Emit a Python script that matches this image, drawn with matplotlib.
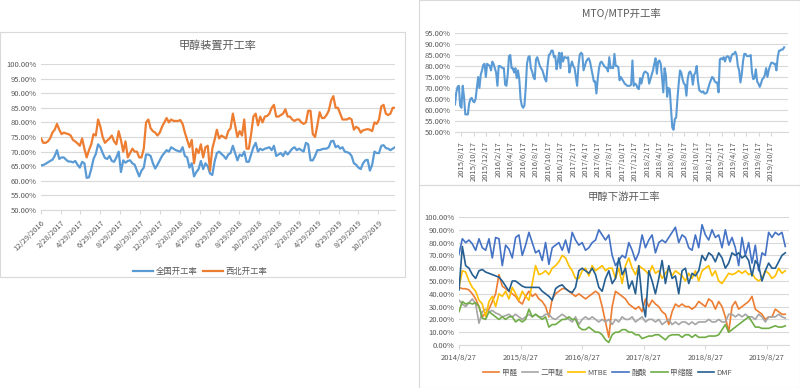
import matplotlib
matplotlib.use("Agg")
import matplotlib.pyplot as plt
from matplotlib.patches import Rectangle
import pandas as pd

plt.rcParams['font.family'] = ['Noto Sans CJK SC', 'DejaVu Sans']

GRAY_TXT = '#595959'
GRID = '#D9D9D9'

# ---- 甲醇装置开工率 (weekly from 2016-12-29)
plant_start = '2016-12-29'
national = [65.3, 65.4, 65.8, 66.3, 66.8, 67.2, 68.5, 70.5, 67.5, 68, 68, 67.2, 66.6, 66.6, 66.3, 66.8,
            65.5, 64.5, 66.5, 66, 61, 61.2, 64, 67.5, 69.2, 72.5, 71.5, 69.5, 67.8, 67.5, 68.5, 66.8,
            66.5, 68, 70, 63, 67, 66.2, 66.8, 67, 66, 65.5, 63.5, 61.5, 63.5, 64.5, 69, 69,
            68.5, 66, 64.2, 65.5, 67, 68.5, 69.5, 70.5, 70, 71.5, 71, 70.5, 70.2, 70, 71.5, 68.5,
            68, 64.5, 66, 61.5, 63, 64, 66.8, 64, 66, 65, 62.5, 62, 66.5, 69.5, 70, 69.2,
            68.5, 67.5, 69, 69.5, 72, 69.5, 67, 69, 68.5, 70, 66.5, 66.5, 69, 71.5, 73, 70,
            71, 70.5, 71, 71.2, 71.5, 70.5, 72, 68.5, 69, 69.5, 68.5, 70, 69, 70, 71, 71.5,
            70.5, 71, 70.5, 70, 73, 72.5, 67, 67, 68.5, 70.5, 70.5, 70.8, 71, 71, 71.5, 73.5,
            73.7, 71.5, 72, 71, 71.5, 70, 69.8, 69.5, 68.5, 66, 65.5, 64.5, 64, 66, 67, 67.2,
            63.5, 65.5, 70, 69.5, 69.5, 72, 72.2, 71.2, 71, 70.5, 71, 71.5]
northwest = [74.5, 73, 73, 73.5, 74.5, 76.5, 77.5, 79.5, 77.5, 76, 76.5, 76.2, 76, 75.5, 74, 73.5,
             72.8, 72, 74.5, 71, 68, 70.5, 72.5, 76, 75.5, 81, 78.5, 75, 73, 73.8, 74.5, 75.5,
             73.5, 72.5, 77, 74, 70, 73.5, 68, 69.5, 71, 70, 70, 68, 68, 71, 80, 81,
             78, 77, 76.5, 75.5, 76.5, 78.5, 80, 81.5, 80, 81, 80.5, 80.5, 80.5, 80.8, 79.5, 76.5,
             74, 71.5, 74, 66, 71, 69.5, 72.5, 68, 71.5, 72, 63.5, 71, 74, 77.5, 74.5, 75.5,
             75, 74.5, 77, 78, 83, 79, 75, 77, 75.5, 81, 71, 71, 76, 82, 83, 79,
             82, 80, 82, 82.2, 83, 85, 86, 82, 82, 82.5, 83, 84.5, 82, 82, 81, 80.5,
             81, 81, 80, 79.5, 80, 84, 84, 76, 75, 79, 83.5, 81.5, 81.5, 82.5, 84, 87.5,
             89, 85, 85, 83, 81, 81, 81, 81.5, 81, 77.5, 78.5, 78, 76.5, 77.3, 77.5, 77.7,
             77.5, 77, 80, 79.5, 81, 85.5, 86, 83, 82.5, 83, 85, 85]
plant_ticks = ['12/29/2016', '2/28/2017', '4/29/2017', '6/29/2017', '8/29/2017', '10/29/2017',
               '12/29/2017', '2/28/2018', '4/29/2018', '6/29/2018', '8/29/2018', '10/29/2018',
               '12/29/2018', '2/28/2019', '4/29/2019', '6/29/2019', '8/29/2019', '10/29/2019']

# ---- MTO/MTP开工率
mto_start, mto_end = '2015-07-17', '2019-12-20'
mto = [62.5, 68, 70.5, 71, 62, 61, 71, 66, 58, 58, 58, 63, 65, 65.5, 64, 63.5, 65, 70, 75, 70,
       76, 78, 80.5, 81, 75, 81, 80.5, 80, 78, 82, 81, 79, 77, 71, 80, 80, 79.5, 79, 79,
       71.5, 71, 76, 84.5, 85, 79, 79, 77, 79, 74.5, 78, 74, 65, 62, 61, 62, 70, 81, 84, 84.5,
       79, 77.5, 75, 74, 83, 84, 82, 80, 79, 78, 76, 74, 73, 80, 85, 85.5, 87, 87, 84, 84.5,
       78.5, 82, 86, 79, 86, 82, 84, 84, 83.5, 84, 77, 80, 82, 80, 79, 75, 71, 80, 85, 86,
       85.5, 78, 80, 82, 83, 83.5, 82, 79, 76, 73, 73, 67.5, 74, 79, 81.5, 82, 81, 80, 79.5,
       79, 77.5, 84, 79, 79.5, 79, 85.5, 80, 80, 79.5, 73.5, 75, 74, 73, 72, 71.5, 71, 71,
       71, 71.5, 82.5, 71, 72, 71.5, 70, 69.5, 74.5, 72, 75, 77, 77.5, 77, 76.5, 72, 74, 76,
       78, 81, 83.5, 76.5, 82, 82.5, 81, 75, 68, 79, 76, 66, 70, 69.5, 61, 52, 51, 56, 56.5,
       65, 72, 78, 77, 74, 72, 71.5, 66.5, 74, 77, 77.5, 76, 71.5, 76, 77, 80, 73, 69, 68.5,
       68, 68.5, 67.5, 67.5, 68, 70, 72, 73.5, 75, 74.5, 73, 72.5, 72.5, 68, 83, 83.5, 83,
       84, 82, 84, 84.5, 84, 82, 84.5, 85.5, 85.5, 86.5, 85, 80, 78, 72.5, 76, 82, 85.5, 85.5,
       84.5, 84.5, 84.5, 85, 77, 74, 74.5, 78.5, 73, 72, 70.5, 72, 74, 74.5, 76, 79, 75, 78,
       80, 81.5, 81.5, 81, 81, 78, 84, 87, 87, 87.5, 87.5, 88.5]

# ---- 甲醇下游开工率
down_start, down_end = '2014-08-27', '2019-12-14'
formaldehyde = [45, 44, 44, 43, 40, 36, 30, 22, 25, 28, 34, 40, 55, 46, 44, 42, 40, 38, 34, 32,
                38, 42, 38, 40, 36, 34, 30, 22, 36, 40, 42, 44, 44, 42, 40, 38, 40, 38, 36, 38,
                40, 42, 40, 30, 18, 6, 30, 42, 40, 38, 36, 32, 30, 28, 30, 26, 36, 30, 35, 32,
                30, 26, 24, 16, 26, 32, 30, 32, 30, 30, 28, 30, 34, 32, 30, 36, 34, 28, 34, 30,
                22, 10, 30, 34, 28, 30, 32, 34, 38, 28, 26, 24, 20, 22, 22, 28, 26, 24, 24]
dme = [35, 32, 30, 33, 36, 32, 17, 26, 28, 26, 27, 25, 24, 22, 23, 24, 22, 24, 22, 20,
       22, 24, 22, 24, 22, 22, 24, 24, 21, 20, 22, 24, 22, 20, 18, 22, 16, 20, 22, 20,
       22, 20, 18, 20, 18, 20, 16, 20, 18, 22, 20, 20, 22, 18, 20, 22, 18, 20, 20, 18,
       20, 16, 18, 20, 16, 18, 16, 18, 18, 16, 18, 16, 18, 18, 18, 20, 18, 18, 20, 18,
       18, 24, 24, 22, 24, 22, 24, 22, 22, 20, 24, 22, 18, 22, 22, 22, 24, 22, 21]
mtbe = [45, 58, 57, 50, 45, 42, 35, 32, 22, 34, 38, 30, 40, 38, 42, 36, 45, 40, 35, 42,
        38, 35, 48, 62, 55, 56, 58, 55, 60, 62, 65, 70, 68, 62, 58, 52, 52, 58, 60, 54,
        62, 58, 60, 62, 58, 60, 60, 52, 60, 48, 62, 68, 60, 55, 62, 60, 58, 55, 62, 56,
        58, 52, 56, 60, 54, 58, 56, 54, 50, 56, 52, 58, 50, 58, 60, 62, 54, 58, 50, 48,
        52, 56, 55, 56, 58, 56, 58, 55, 56, 52, 50, 52, 58, 56, 52, 54, 60, 56, 58]
acetic = [71, 83, 80, 82, 79, 74, 83, 76, 74, 83, 68, 84, 83, 62, 78, 75, 68, 84, 86, 70,
          78, 88, 80, 72, 74, 66, 80, 63, 76, 78, 80, 74, 82, 72, 88, 82, 78, 80, 74, 76,
          80, 82, 90, 86, 82, 86, 70, 62, 66, 70, 68, 80, 74, 66, 72, 86, 76, 82, 86, 72,
          80, 82, 80, 84, 88, 92, 80, 86, 84, 76, 74, 86, 76, 94, 86, 82, 90, 84, 86, 76,
          90, 78, 84, 76, 62, 84, 70, 80, 64, 78, 58, 72, 70, 88, 84, 88, 86, 88, 77]
methylal = [26, 34, 32, 33, 32, 33, 30, 21, 20, 26, 24, 22, 20, 22, 20, 22, 22, 18, 20, 18,
            20, 28, 22, 24, 22, 20, 22, 14, 16, 16, 18, 20, 20, 22, 20, 20, 14, 12, 12, 14,
            12, 10, 10, 8, 4, 2, 8, 10, 10, 12, 12, 10, 10, 8, 8, 5, 6, 7, 7, 8,
            8, 6, 4, 7, 8, 8, 8, 6, 8, 8, 6, 8, 6, 6, 6, 7, 7, 7, 8, 12,
            16, 10, 12, 14, 16, 18, 20, 22, 18, 14, 14, 13, 13, 13, 14, 15, 14, 14, 15]
dmf = [43, 77, 62, 60, 55, 52, 58, 59, 57, 56, 55, 54, 53, 50, 46, 42, 50, 50, 48, 46,
       45, 45, 45, 45, 45, 42, 40, 38, 35, 44, 46, 47, 44, 42, 41, 45, 58, 60, 58, 56,
       60, 55, 45, 42, 52, 58, 48, 52, 68, 55, 60, 44, 50, 40, 62, 35, 22, 58, 50, 40,
       52, 66, 48, 62, 52, 54, 40, 58, 60, 48, 56, 54, 58, 70, 66, 72, 70, 65, 72, 68,
       60, 64, 72, 70, 72, 68, 70, 66, 54, 66, 62, 50, 58, 64, 60, 60, 65, 70, 72]
down_names = ['甲醛', '二甲醚', 'MTBE', '醋酸', '甲缩醛', 'DMF']
down_colors = ['#ED7D31', '#A5A5A5', '#FFC000', '#4472C4', '#70AD47', '#255E91']
down_ticks = ['2014/8/27', '2015/8/27', '2016/8/27', '2017/8/27', '2018/8/27', '2019/8/27']

fig = plt.figure(figsize=(8, 3.88), dpi=100)

# panel frames
for (x0, y0, w, h) in [(0, 111, 405, 245), (419, 203, 381, 185), (419, 0, 381, 203)]:
    fig.patches.append(Rectangle((x0 / 800, y0 / 388), w / 800, h / 388, transform=fig.transFigure,
                                 fill=False, edgecolor=GRID, lw=0.8))


def style(ax, ymin, ymax, step):
    ax.set_ylim(ymin, ymax)
    ax.set_yticks([ymin + i * step for i in range(int(round((ymax - ymin) / step)) + 1)])
    ax.yaxis.set_major_formatter(lambda v, p: f"{v:.2f}%")
    ax.grid(axis='y', color=GRID, lw=0.8)
    ax.set_axisbelow(True)
    for s in ['top', 'right', 'left']:
        ax.spines[s].set_visible(False)
    ax.spines['bottom'].set_color(GRID)
    ax.tick_params(axis='y', length=0, labelsize=5.5, labelcolor=GRAY_TXT, pad=3)
    ax.tick_params(axis='x', length=3, color=GRID, labelsize=5.5, labelcolor=GRAY_TXT)


# left chart
ax1 = fig.add_axes([41 / 800, 1 - 210 / 388, 354 / 800, 146 / 388])
d1 = pd.date_range(plant_start, periods=len(national), freq='7D')
ax1.plot(d1, national, color='#5B9BD5', lw=1.6, label='全国开工率')
ax1.plot(d1, northwest, color='#ED7D31', lw=1.6, label='西北开工率')
style(ax1, 50, 100, 5)
ax1.set_xlim(d1[0], d1[-1])
ax1.set_xticks(pd.to_datetime(plant_ticks, format='%m/%d/%Y'))
ax1.set_xticklabels(plant_ticks, rotation=45, ha='right', rotation_mode='anchor')
ax1.set_title('甲醇装置开工率', fontsize=8, color=GRAY_TXT, pad=11)
ax1.legend(loc='upper center', bbox_to_anchor=(0.45, -0.34), ncol=2, frameon=False,
           fontsize=6, handlelength=2.4, columnspacing=0.6, handletextpad=0.3, labelcolor=GRAY_TXT)

# right top chart
ax2 = fig.add_axes([455 / 800, 1 - 132 / 388, 333 / 800, 99 / 388])
d2 = pd.date_range(mto_start, mto_end, periods=len(mto))
ax2.plot(d2, mto, color='#5B9BD5', lw=1.5)
style(ax2, 50, 95, 5)
ax2.set_xlim(d2[0], pd.Timestamp('2020-01-08'))
t2 = pd.date_range('2015-07-17', '2019-11-17', freq='2MS') + pd.Timedelta(days=16)
ax2.set_xticks(t2)
ax2.set_xticklabels([f"{t.year}/{t.month}/{t.day}" for t in t2], rotation=90)
ax2.set_title('MTO/MTP开工率', fontsize=7.5, color=GRAY_TXT, pad=11)

# right bottom chart
ax3 = fig.add_axes([459 / 800, 1 - 345 / 388, 330 / 800, 128 / 388])
d3 = pd.date_range(down_start, down_end, periods=len(dmf))
for vals, name, col in zip([formaldehyde, dme, mtbe, acetic, methylal, dmf], down_names, down_colors):
    ax3.plot(d3, vals, color=col, lw=1.2, label=name)
style(ax3, 0, 100, 10)
ax3.set_xlim(d3[0], pd.Timestamp('2020-01-05'))
ax3.set_xticks(pd.to_datetime(down_ticks, format='%Y/%m/%d'))
ax3.set_xticklabels(down_ticks)
ax3.set_title('甲醇下游开工率', fontsize=7.5, color=GRAY_TXT, pad=12)
ax3.legend(loc='upper center', bbox_to_anchor=(0.45, -0.13), ncol=6, frameon=False,
           fontsize=5.5, handlelength=2.2, columnspacing=0.6, handletextpad=0.3, labelcolor=GRAY_TXT)

fig.savefig('out.png', dpi=100)
